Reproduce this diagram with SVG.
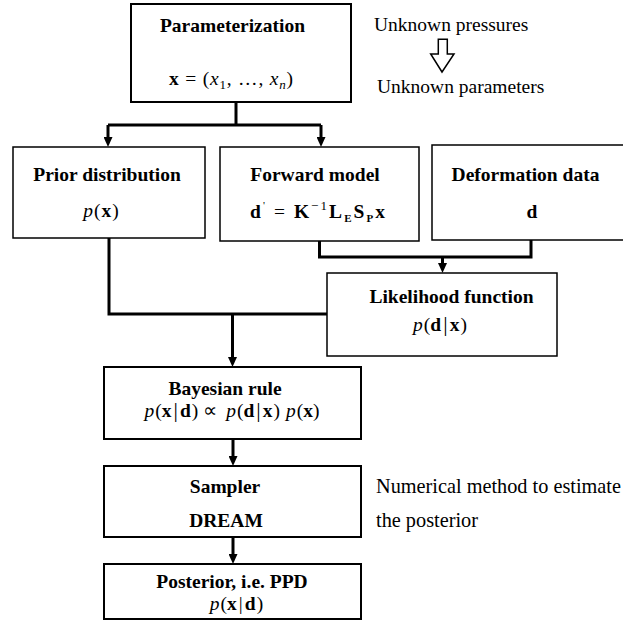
<svg xmlns="http://www.w3.org/2000/svg" width="623" height="633" viewBox="0 0 623 633">
<style>
  .box{fill:#fff;stroke:#000;stroke-width:1.5}
  .box2{fill:#fff;stroke:#000;stroke-width:2}
  .t{font-family:"Liberation Serif","Times New Roman",serif;font-size:19.5px;fill:#000}
  .b{font-weight:bold}
  .i{font-style:italic}
  .c{text-anchor:middle}
  .bar{font-size:22px}
  .con{fill:none;stroke:#000;stroke-width:3}
</style>
<defs>
  <marker id="ah" viewBox="0 0 10 9" markerWidth="10" markerHeight="9" refX="4" refY="4.5" orient="auto" markerUnits="userSpaceOnUse">
    <path d="M0,0 L10,4.5 L0,9 z" fill="#000"/>
  </marker>
</defs>
<rect width="623" height="633" fill="#fff"/>

<g id="connectors">
  <path class="con" d="M236,102 V125"/>
  <path class="con" d="M108,125 H321"/>
  <path class="con" d="M108,125 V141" marker-end="url(#ah)"/>
  <path class="con" d="M321,125 V141" marker-end="url(#ah)"/>
  <path class="con" d="M109,238 V314 H327"/>
  <path class="con" d="M232.5,314 V361" marker-end="url(#ah)"/>
  <path class="con" d="M319.5,241 V257 H531 V240"/>
  <path class="con" d="M442.5,257 V267" marker-end="url(#ah)"/>
  <path class="con" d="M233,439 V460" marker-end="url(#ah)"/>
  <path class="con" d="M233,537 V558" marker-end="url(#ah)"/>
</g>

<g id="parameterization">
  <rect class="box2" x="131" y="4" width="220" height="98"/>
  <text class="t b c" x="232.5" y="32">Parameterization</text>
  <text class="t c" x="231" y="85" textLength="124" lengthAdjust="spacing"><tspan class="b">x</tspan> = (<tspan class="i">x</tspan><tspan font-size="13" dy="4">1</tspan><tspan dy="-4">, …, </tspan><tspan class="i">x</tspan><tspan class="i" font-size="13" dy="4">n</tspan><tspan dy="-4">)</tspan></text>
</g>

<g id="annotation-top">
  <text class="t" x="374" y="31">Unknown pressures</text>
  <path d="M438.3,39.3 H447.3 V54 H454 L442,72 L430.7,54 H438.3 Z" fill="#fff" stroke="#000" stroke-width="1.5"/>
  <text class="t" x="377" y="93">Unknown parameters</text>
</g>

<g id="prior">
  <rect class="box" x="13" y="147" width="192" height="91"/>
  <text class="t b c" x="107" y="181">Prior distribution</text>
  <text class="t c" x="101" y="217"><tspan class="i">p</tspan><tspan dx="1">(</tspan><tspan class="b" dx="1">x</tspan><tspan dx="1">)</tspan></text>
</g>

<g id="forward">
  <rect class="box" x="220" y="147" width="199" height="94"/>
  <text class="t b c" x="315" y="181">Forward model</text>
  <text class="t c" x="317.5" y="218" textLength="135" lengthAdjust="spacing"><tspan class="b">d</tspan><tspan font-size="11" dy="-9">'</tspan><tspan dy="9"> = </tspan><tspan class="b">K</tspan><tspan font-size="13" dy="-8">−1</tspan><tspan class="b" dy="8">L</tspan><tspan class="b" font-size="11" dy="4">E</tspan><tspan class="b" dy="-4">S</tspan><tspan class="b" font-size="11" dy="4">P</tspan><tspan class="b" dy="-4">x</tspan></text>
</g>

<g id="deformation">
  <rect class="box" x="432" y="145" width="210" height="95"/>
  <text class="t b c" x="525.5" y="181">Deformation data</text>
  <text class="t b c" x="532" y="218">d</text>
</g>

<g id="likelihood">
  <rect class="box" x="327" y="273" width="230" height="83"/>
  <text class="t b c" x="451.5" y="303">Likelihood function</text>
  <text class="t c" x="440" y="331"><tspan class="i">p</tspan><tspan dx="1">(</tspan><tspan class="b">d</tspan><tspan class="bar" dx="2">|</tspan><tspan class="b" dx="2">x</tspan><tspan dx="1">)</tspan></text>
</g>

<g id="bayesian">
  <rect class="box2" x="104" y="367" width="257" height="72"/>
  <text class="t b c" x="225" y="395">Bayesian rule</text>
  <text class="t c" x="232" y="417"><tspan class="i">p</tspan><tspan dx="1">(</tspan><tspan class="b">x</tspan><tspan class="bar" dx="2">|</tspan><tspan class="b" dx="2">d</tspan><tspan dx="1">)</tspan><tspan dx="5">∝</tspan><tspan class="i" dx="9">p</tspan><tspan dx="1">(</tspan><tspan class="b">d</tspan><tspan class="bar" dx="2">|</tspan><tspan class="b" dx="2">x</tspan><tspan dx="1">)</tspan><tspan class="i" dx="6">p</tspan><tspan dx="1">(</tspan><tspan class="b">x</tspan><tspan>)</tspan></text>
</g>

<g id="sampler">
  <rect class="box2" x="104" y="466" width="257" height="71"/>
  <text class="t b c" x="225" y="493">Sampler</text>
  <text class="t b c" x="226" y="527">DREAM</text>
</g>

<g id="annotation-sampler">
  <text class="t" x="376" y="493" style="font-size:20.3px">Numerical method to estimate</text>
  <text class="t" x="376" y="527" style="font-size:20.3px">the posterior</text>
</g>

<g id="posterior">
  <rect class="box2" x="104" y="564" width="257" height="55"/>
  <text class="t b c" x="232" y="588">Posterior, i.e. PPD</text>
  <text class="t c" x="236.5" y="610"><tspan class="i">p</tspan><tspan dx="1">(</tspan><tspan class="b">x</tspan><tspan dx="2">|</tspan><tspan class="b" dx="2">d</tspan><tspan dx="1">)</tspan></text>
</g>
</svg>
